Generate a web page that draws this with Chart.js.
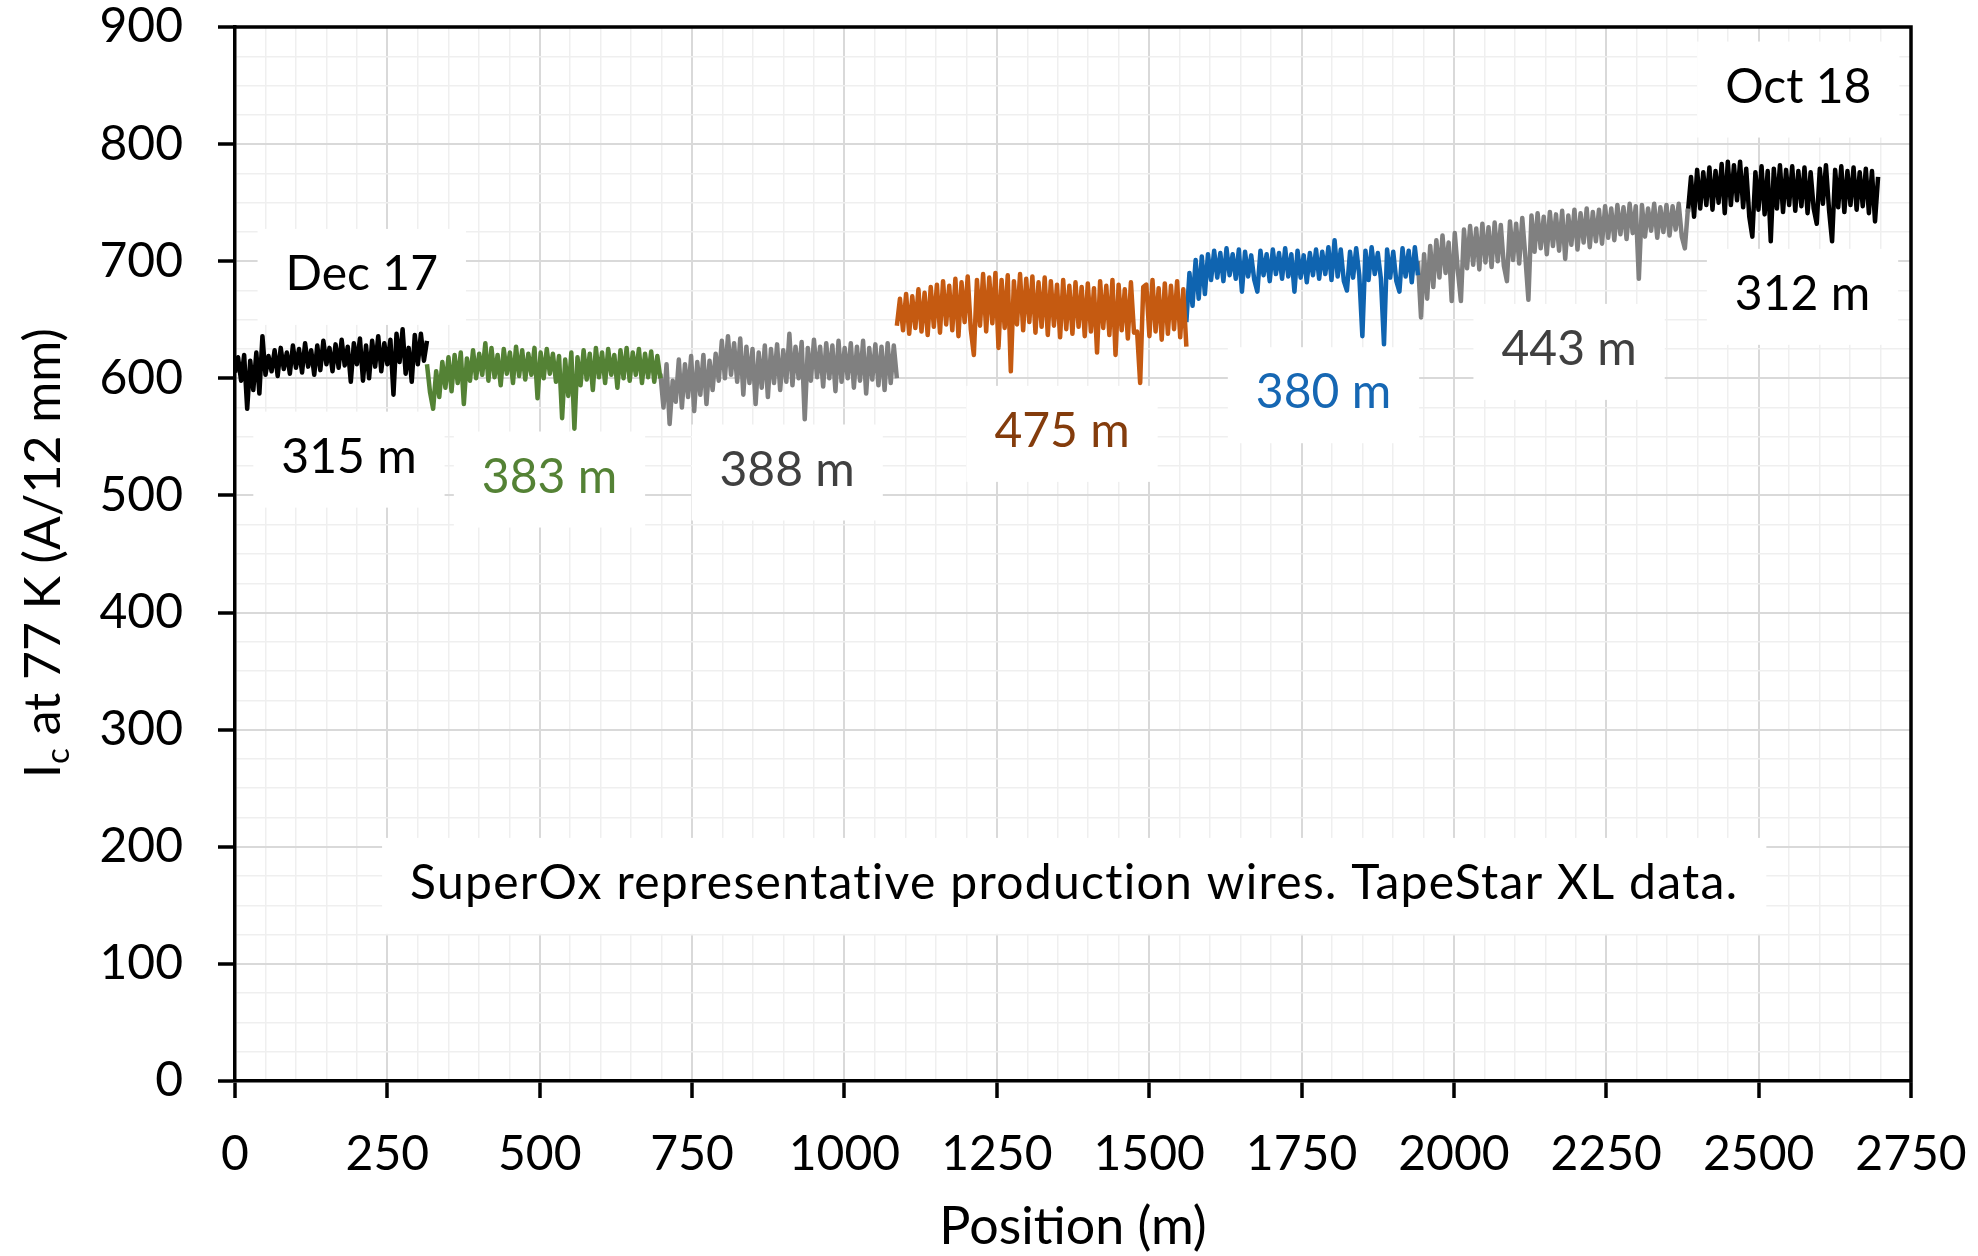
<!DOCTYPE html>
<html>
<head>
<meta charset="utf-8">
<title>Ic along length - SuperOx production wires</title>
<script src="https://cdn.jsdelivr.net/npm/chart.js@4.4.1/dist/chart.umd.min.js"></script>
<style>
  html, body { margin: 0; padding: 0; background: #fff; }
  canvas { display: block; }
</style>
</head>
<body>
<canvas id="ic" width="1978" height="1256"></canvas>
<script>
// ---- data: seven production pieces, measured end to end (position in m, Ic in A/12 mm) ----
const pieceStart  = [0, 315, 698, 1086, 1561, 1941, 2384];
const pieceLength = [315, 383, 388, 475, 380, 443, 312];
const pieceLabels = ['315 m', '383 m', '388 m', '475 m', '380 m', '443 m', '312 m'];
const dateLabels  = ['Dec 17', 'Oct 18'];
const noteText    = 'SuperOx representative production wires. TapeStar XL data.';
const xTitle      = 'Position (m)';
const yTitleMain  = 'I';
const yTitleSub   = 'c';
const yTitleRest  = ' at 77 K (A/12 mm)';
const xTickLabels = [0, 250, 500, 750, 1000, 1250, 1500, 1750, 2000, 2250, 2500, 2750];
const yTickLabels = [0, 100, 200, 300, 400, 500, 600, 700, 800, 900];

const icPiece1 = [605,618,598,620,574,615,590,622,587,636,
  603,619,606,624,602,626,608,622,604,628,
  609,625,605,630,610,624,603,628,607,632,
  612,626,606,629,609,633,611,627,597,630,
  612,634,598,628,600,632,610,636,606,630,
  612,633,586,638,614,642,604,626,597,637,
  612,638,615,632];
const icPiece2 = [612,588,574,606,584,614,592,618,589,620,
  596,622,578,617,598,624,600,621,603,630,
  598,626,601,620,594,625,604,622,596,627,
  602,624,599,621,603,626,583,622,600,625,
  604,621,597,619,566,616,585,622,557,618,
  594,624,599,621,590,626,601,622,596,625,
  603,620,592,624,600,626,598,622,603,625,
  596,621,601,623,597,619,600];
const icPiece3 = [604,575,612,561,598,580,616,575,612,584,
  619,572,614,586,620,578,615,590,621,598,
  632,600,636,603,630,597,634,586,627,596,
  625,578,622,592,628,584,625,596,629,590,
  624,597,638,594,627,600,631,565,626,598,
  633,601,627,593,630,600,628,589,632,597,
  626,600,630,592,627,598,632,587,626,599,
  629,594,627,590,630,596,628,600];
const icPiece4 = [645,668,641,672,638,670,643,676,640,673,
  637,678,644,680,639,683,646,679,641,685,
  636,682,648,687,642,620,684,645,689,640,
  686,647,690,626,684,643,688,606,683,646,
  689,641,685,648,687,639,682,644,686,637,
  683,645,680,635,684,642,679,638,682,644,
  678,636,681,640,677,622,683,643,679,637,
  684,620,680,641,676,634,682,639,640,596,
  678,680,636,684,640,677,633,681,638,679,
  642,683,635,676,627];
const icPiece5 = [648,690,662,701,668,704,672,706,684,709,
  686,707,683,711,688,706,685,710,674,708,
  687,705,684,674,709,688,706,683,710,689,
  707,685,711,687,706,674,709,686,705,682,
  707,688,710,685,708,689,712,684,718,687,
  710,683,675,708,686,711,688,636,709,684,
  712,689,707,685,629,710,686,708,683,674,
  711,687,709,682,712,688];
const icPiece6 = [700,652,706,668,713,678,718,686,722,690,
  716,666,724,692,666,727,694,730,697,728,
  693,732,699,729,695,733,700,731,696,683,
  734,701,732,698,737,704,667,739,708,741,
  711,738,706,742,713,740,709,743,702,739,
  714,744,710,741,716,745,712,742,717,744,
  715,747,720,745,718,748,723,746,719,749,
  724,747,685,748,721,745,726,749,720,746,
  725,748,722,747,727,749,721,711,745];
const icPiece7 = [742,772,738,778,745,776,748,780,744,777,
  750,783,741,785,748,782,752,785,746,779,
  738,721,776,744,781,740,777,717,779,745,
  782,742,778,748,781,743,777,747,780,741,
  776,745,732,779,749,782,744,717,778,746,
  781,742,777,748,780,744,776,747,779,741,
  777,734,772];
const icPieces = [icPiece1, icPiece2, icPiece3, icPiece4, icPiece5, icPiece6, icPiece7];

// ---- styling / layout ----
const FONT_FAMILY = 'Lato';
const FONT_SIZE = 48;
const FONT = FONT_SIZE + 'px ' + FONT_FAMILY;
const TITLE_FONT = '50px ' + FONT_FAMILY;
const SUB_FONT = '33px ' + FONT_FAMILY;
const XTITLE_FONT = '52px ' + FONT_FAMILY;
const CAP_HALF = 17;
const lineColors  = ['#000000', '#548235', '#808080', '#C55A11', '#0F64B0', '#808080', '#000000'];
const labelColors = ['#000000', '#548235', '#404040', '#843C0C', '#1667B3', '#404040', '#000000'];
// label anchors in axis units (position, Ic)
const pieceLabelAt = [[187, 534], [516, 517], [906, 523], [1357, 556], [1786, 589], [2189, 626], [2572, 673]];
const dateLabelAt  = [[208, 690], [2565, 850]];
const noteAt       = [1377, 170];
const BOX_PAD_X = 28, BOX_UP = 44, BOX_DOWN = 52;

const datasets = icPieces.map((vals, k) => ({
  label: pieceLabels[k],
  data: vals.map((v, i) => ({ x: pieceStart[k] + i * pieceLength[k] / (vals.length - 1), y: v })),
  borderColor: lineColors[k],
  borderWidth: 4.5,
  borderJoinStyle: 'round',
  pointRadius: 0,
  fill: false,
  tension: 0
}));

function textBox(ctx, text, cx, cy, color, spacing) {
  ctx.font = FONT;
  ctx.letterSpacing = spacing || '0px';
  const w = ctx.measureText(text).width;
  ctx.fillStyle = '#ffffff';
  ctx.fillRect(cx - w / 2 - BOX_PAD_X, cy - BOX_UP, w + 2 * BOX_PAD_X, BOX_UP + BOX_DOWN);
  ctx.fillStyle = color;
  ctx.textAlign = 'center';
  ctx.textBaseline = 'alphabetic';
  ctx.fillText(text, cx, cy + CAP_HALF);
  ctx.letterSpacing = '0px';
}

const decorations = {
  id: 'decorations',
  beforeDatasetsDraw(chart) {
    const { ctx, scales: { x, y } } = chart;
    ctx.save();
    pieceLabels.forEach((t, k) => {
      textBox(ctx, t, x.getPixelForValue(pieceLabelAt[k][0]), y.getPixelForValue(pieceLabelAt[k][1]), labelColors[k]);
    });
    dateLabels.forEach((t, k) => {
      textBox(ctx, t, x.getPixelForValue(dateLabelAt[k][0]), y.getPixelForValue(dateLabelAt[k][1]), '#000000');
    });
    textBox(ctx, noteText, x.getPixelForValue(noteAt[0]), y.getPixelForValue(noteAt[1]), '#000000', '1.3px');
    ctx.restore();
  },
  afterDatasetsDraw(chart) {
    const { ctx, chartArea: a } = chart;
    ctx.save();
    ctx.strokeStyle = '#000';
    ctx.lineWidth = 3.5;
    ctx.beginPath();
    ctx.moveTo(a.left - 1.75, a.top);
    ctx.lineTo(a.right, a.top);
    ctx.lineTo(a.right, a.bottom + 1.75);
    ctx.stroke();
    ctx.restore();
  },
  afterDraw(chart) {
    const { ctx, chartArea: a } = chart;
    ctx.save();
    ctx.fillStyle = '#000';
    // x-axis title
    ctx.font = XTITLE_FONT;
    ctx.textAlign = 'center';
    ctx.textBaseline = 'alphabetic';
    ctx.fillText(xTitle, (a.left + a.right) / 2, 1244);
    // y-axis title with subscript, rotated
    ctx.translate(60, 553);
    ctx.rotate(-Math.PI / 2);
    ctx.textAlign = 'left';
    ctx.font = TITLE_FONT;
    const wMain = ctx.measureText(yTitleMain).width;
    const wRest = ctx.measureText(yTitleRest).width;
    ctx.font = SUB_FONT;
    const wSub = ctx.measureText(yTitleSub).width;
    const x0 = -(wMain + wSub + wRest) / 2;
    ctx.font = TITLE_FONT;
    ctx.fillText(yTitleMain, x0, 0);
    ctx.font = SUB_FONT;
    ctx.fillText(yTitleSub, x0 + wMain, 9);
    ctx.font = TITLE_FONT;
    ctx.fillText(yTitleRest, x0 + wMain + wSub, 0);
    ctx.restore();
  }
};

const CLEAR = 'rgba(0,0,0,0)';
function gridStyle(major, min, max) {
  return {
    drawTicks: true,
    tickLength: 17,
    tickWidth: 3.5,
    color: c => {
      const v = c.tick ? c.tick.value : NaN;
      if (v === min || v === max) return CLEAR;
      return v % major === 0 ? '#d9d9d9' : '#efefef';
    },
    lineWidth: c => (c.tick && c.tick.value % major === 0) ? 2 : 1.5,
    tickColor: c => (c.tick && c.tick.value % major === 0) ? '#000000' : CLEAR
  };
}

new Chart(document.getElementById('ic'), {
  type: 'line',
  data: { datasets },
  plugins: [decorations],
  options: {
    responsive: false,
    animation: false,
    events: [],
    layout: { padding: { top: 27, right: 67, bottom: 0, left: 0 } },
    plugins: { legend: { display: false }, tooltip: { enabled: false } },
    scales: {
      x: {
        type: 'linear',
        min: 0, max: 2750,
        afterFit: s => { s.height = 175; s.paddingLeft = 0; s.paddingRight = 0; },
        border: { display: true, color: '#000', width: 3.5 },
        grid: gridStyle(250, 0, 2750),
        ticks: {
          stepSize: 50, autoSkip: false, maxRotation: 0, minRotation: 0,
          padding: 28, color: '#000',
          font: { family: FONT_FAMILY, size: FONT_SIZE },
          callback: v => xTickLabels.includes(v) ? String(v) : ''
        }
      },
      y: {
        type: 'linear',
        min: 0, max: 900,
        afterFit: s => { s.width = 235; s.paddingTop = 0; s.paddingBottom = 0; },
        border: { display: true, color: '#000', width: 3.5 },
        grid: gridStyle(100, 0, 900),
        ticks: {
          stepSize: 25, autoSkip: false,
          padding: 35, color: '#000',
          font: { family: FONT_FAMILY, size: FONT_SIZE },
          callback: v => yTickLabels.includes(v) ? String(v) : ''
        }
      }
    }
  }
});
</script>
</body>
</html>
